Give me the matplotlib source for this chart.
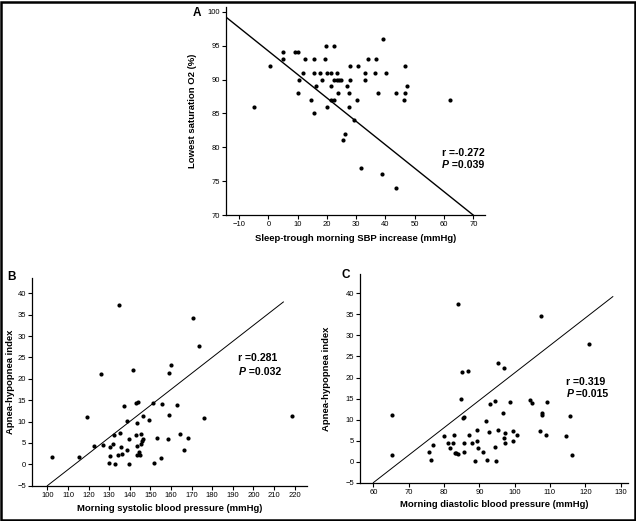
import numpy as np
import matplotlib.pyplot as plt
from matplotlib.patches import Rectangle

plt.rcParams['font.family'] = ['Liberation Sans', 'DejaVu Sans']

# Panel A: sleep-trough morning SBP increase vs lowest O2 saturation
a_x = [-5, 0.5, 5, 5, 9, 10, 10, 10.4, 11.8, 12.4, 14.5, 15.6, 15.6, 15.5, 16.4, 17.5, 18.2,
       19.4, 19.7, 19.9, 19.9, 21.3, 21.5, 21.5, 22.4, 22.4, 22.5, 23.3, 23.3, 24.1, 24.8, 23.8,
       25.6, 26.0, 27.0, 27.6, 27.5, 28.0, 28.0, 29.3, 30.2, 30.7, 32.9, 32.9, 34.0, 36.5, 36.9,
       37.5, 39.3, 40.3, 43.7, 46.2, 46.8, 46.8, 47.4, 31.8, 38.9, 43.7, 62]
a_y = [86, 92, 94, 93, 94, 94, 88, 90, 91, 93, 87, 93, 91, 85, 89, 91, 90,
       93, 95, 91, 86, 89, 91, 87, 95, 90, 87, 91, 90, 90, 90, 88,
       81, 82, 89, 88, 86, 90, 92, 84, 87, 92, 91, 90, 93, 91, 93,
       88, 96, 91, 88, 87, 92, 88, 89, 77, 76, 74, 87]
a_fit = (94.2, -0.346)  # intercept, slope

# Panel B: morning systolic BP vs AHI
b_x = [134.9, 170.8, 173.7, 125.9, 141.4, 159.8, 159.0, 137.4, 143.0, 144.2, 151.2, 155.7, 163.0,
       119.4, 138.4, 143.6, 146.6, 149.5, 159.2, 176.0, 218.8, 135.4, 132.3, 145.4, 143.0, 139.4,
       153.0, 158.5, 164.3, 168.4, 146.6, 146.0, 145.4, 143.4, 122.8, 126.9, 130.4, 131.7, 135.6,
       138.8, 166.3, 144.3, 134.3, 136.2, 143.6, 145.0, 130.4, 102.1, 115.2, 155.1, 129.8, 132.8,
       139.8, 151.9]
b_y = [37.3, 34.3, 27.7, 21.1, 22.0, 23.2, 21.3, 13.7, 14.4, 14.6, 14.4, 14.1, 13.8,
       11.0, 10.1, 9.6, 11.4, 10.4, 11.5, 10.8, 11.2, 7.4, 6.9, 7.2, 6.8, 6.0,
       6.2, 5.9, 7.2, 6.2, 6.0, 5.4, 4.8, 4.3, 4.3, 4.5, 4.1, 4.7, 4.1,
       3.3, 3.3, 2.9, 2.2, 2.4, 2.2, 2.2, 1.9, 1.6, 1.7, 1.4, 0.4, 0.1,
       0.1, 0.4]
b_fit = (-42.55, 0.3755)

# Panel C: morning diastolic BP vs AHI
c_x = [84.1, 107.6, 121.1, 95.2, 97.1, 85.1, 86.8, 84.9, 93.0, 94.4, 98.7, 104.4, 104.9, 109.1,
       65.2, 85.3, 85.8, 96.7, 107.7, 107.8, 115.8, 91.9, 107.2, 108.8, 80.0, 82.9, 87.2, 89.3,
       92.7, 95.3, 97.4, 99.5, 100.6, 96.9, 114.5, 76.9, 81.1, 82.6, 85.6, 87.9, 89.3, 97.3,
       99.5, 75.7, 81.6, 83.0, 83.5, 84.1, 85.8, 89.7, 90.9, 94.3, 65.4, 116.3, 76.3, 88.9,
       92.2, 94.6]
c_y = [37.5, 34.5, 27.9, 23.4, 22.3, 21.4, 21.5, 14.8, 13.8, 14.4, 14.1, 14.7, 13.9, 14.2,
       11.1, 10.3, 10.5, 11.5, 11.6, 11.2, 10.9, 9.7, 7.4, 6.3, 6.1, 6.3, 6.4, 7.5,
       7.0, 7.6, 6.9, 7.4, 6.3, 5.6, 6.1, 4.0, 4.5, 4.4, 4.5, 4.5, 4.8, 4.5,
       4.8, 2.4, 3.2, 2.0, 2.0, 1.9, 2.2, 3.3, 2.2, 3.4, 1.7, 1.5, 0.5, 0.2,
       0.4, 0.2]
c_fit = (-44.1, 0.652)


def panel(ax, x, y, fit, fit_range, xlim, ylim, xticks, yticks, xlabel, ylabel,
          r_txt, p_txt, txt_pos, lab_x, lab_y, lw):
    ax.scatter(x, y, s=9, color='black', zorder=3, linewidths=0)
    xx = np.array(fit_range)
    ax.plot(xx, fit[0] + fit[1] * xx, color='black', lw=lw, zorder=2)
    ax.set_xlim(*xlim)
    ax.set_ylim(*ylim)
    ax.set_xticks(xticks)
    ax.set_yticks(yticks)
    for s in ['top', 'right']:
        ax.spines[s].set_visible(False)
    for s in ['left', 'bottom']:
        ax.spines[s].set_linewidth(0.9)
    ax.tick_params(length=3, width=0.8, labelsize=5.5, pad=1.5)
    ax.set_xlabel(xlabel, fontsize=6.8, fontweight='bold')
    ax.set_ylabel(ylabel, fontsize=6.8, fontweight='bold')
    ax.xaxis.set_label_coords(0.5, lab_y)
    ax.yaxis.set_label_coords(lab_x, 0.5)
    tx, ty, ty2 = txt_pos
    ax.text(tx, ty, 'r =' + r_txt, transform=ax.transAxes, fontsize=7.6,
            fontweight='bold', va='center')
    ax.text(tx + 0.002, ty2, 'P', transform=ax.transAxes, fontsize=7.6,
            fontweight='bold', style='italic', va='center')
    ax.annotate(' =' + p_txt, xy=(tx + 0.002, ty2), xycoords='axes fraction',
                xytext=(4.9, 0), textcoords='offset points', fontsize=7.6,
                fontweight='bold', va='center')


fig = plt.figure(figsize=(6.36, 5.21), dpi=100)

axA = fig.add_axes([0.3553, 0.5873, 0.4073, 0.3992])
panel(axA, a_x, a_y, a_fit, (-14.5, 70), (-14.5, 74), (70, 100.7),
      range(-10, 71, 10), range(70, 101, 5),
      'Sleep-trough morning SBP increase (mmHg)', 'Lowest saturation O2 (%)',
      '-0.272', '0.039', (0.833, 0.30, 0.24), -0.112, -0.093, 1.0)

axB = fig.add_axes([0.0508, 0.0678, 0.4314, 0.3986])
panel(axB, b_x, b_y, b_fit, (100, 214.5), (92.7, 225.8), (-5, 43.6),
      range(100, 221, 10), range(-5, 41, 5),
      'Morning systolic blood pressure (mmHg)', 'Apnea-hypopnea index',
      '0.281', '0.032', (0.751, 0.613, 0.549), -0.063, -0.090, 0.7)

axC = fig.add_axes([0.5665, 0.0735, 0.4204, 0.4006])
panel(axC, c_x, c_y, c_fit, (60, 127.8), (56.3, 132.0), (-5, 44.6),
      range(60, 131, 10), range(-5, 41, 5),
      'Morning diastolic blood pressure (mmHg)', 'Apnea-hypopnea index',
      '0.319', '0.015', (0.769, 0.484, 0.425), -0.110, -0.083, 0.7)

fig.text(0.303, 0.986, 'A', fontsize=8.5, fontweight='bold', va='top')
fig.text(0.012, 0.479, 'B', fontsize=8.5, fontweight='bold', va='top')
fig.text(0.537, 0.483, 'C', fontsize=8.5, fontweight='bold', va='top')

# outer frame
fig.patches.append(Rectangle((0.002, 0.002), 0.996, 0.994, transform=fig.transFigure,
                             fill=False, edgecolor='black', linewidth=1.8))

fig.savefig('out.png', dpi=100)
